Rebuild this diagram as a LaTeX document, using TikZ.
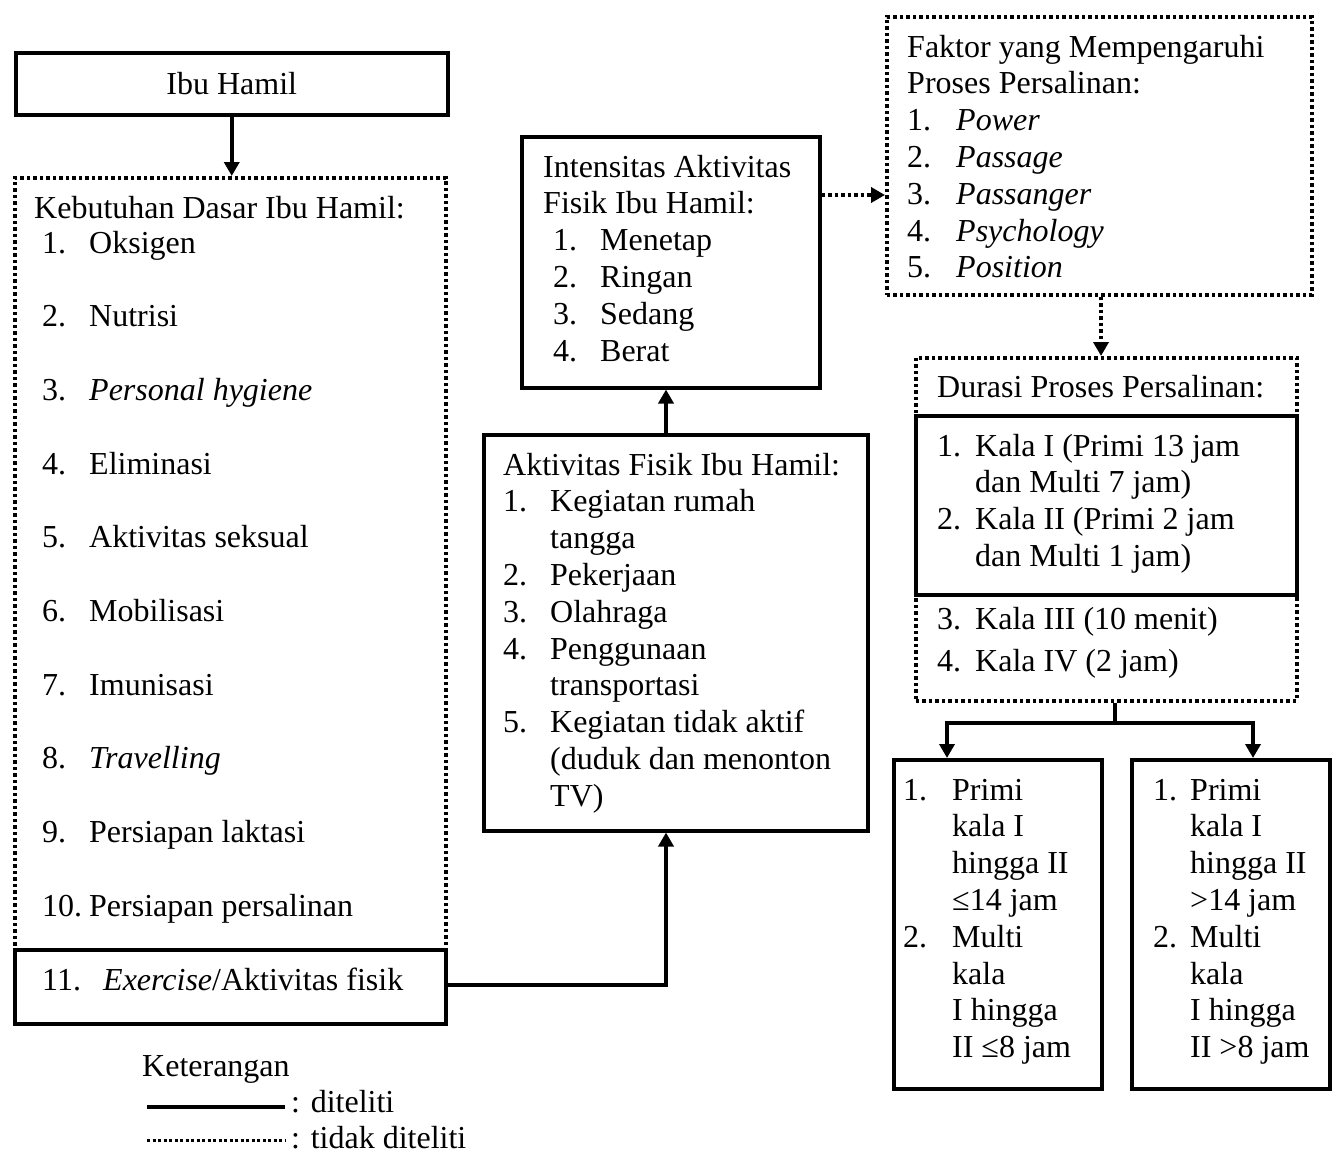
\documentclass[tikz,border=0pt]{standalone}
\usepackage{fontspec}
\setmainfont{Liberation Serif}
\usetikzlibrary{arrows.meta}
\newcommand\fs{\fontsize{32}{36.8}\selectfont}
\newcommand\nm[2]{\makebox[#1][l]{#2}}
\begin{document}
\begin{tikzpicture}[x=1pt,y=-1pt,
  solidbox/.style={draw, line width=3.5pt, rectangle, inner sep=0pt, anchor=north west},
  dotbox/.style={solidbox, dash pattern=on 3.5pt off 3pt},
  conn/.style={line width=3.5pt, -{Triangle[width=15pt,length=14pt]}},
  dotconn/.style={conn, dash pattern=on 3.5pt off 3pt},
  plain/.style={line width=3.5pt},
  txt/.style={anchor=base west, inner sep=0pt, font=\fs}]
\useasboundingbox[fill=white] (0,0) rectangle (1337,1154);

% ---------- boxes ----------
\node[solidbox, minimum width=432pt, minimum height=62pt, font=\fs] (ibu) at (14,51) {Ibu Hamil};
\node[dotbox, minimum width=431pt, minimum height=772pt] (keb) at (13,176) {};
\node[solidbox, minimum width=431pt, minimum height=74pt] (ex) at (13,948) {};
\node[solidbox, minimum width=298pt, minimum height=251pt] (int) at (520,135) {};
\node[solidbox, minimum width=384pt, minimum height=396pt] (akt) at (482,433) {};
\node[dotbox, minimum width=425pt, minimum height=278pt] (fak) at (885,15) {};
\node[dotbox, minimum width=381pt, minimum height=343pt] (dur) at (914,356) {};
\node[solidbox, minimum width=381pt, minimum height=179pt] (durin) at (914,414) {};
\node[solidbox, minimum width=208pt, minimum height=329pt] (pl) at (892,758) {};
\node[solidbox, minimum width=198pt, minimum height=329pt] (pr) at (1130,758) {};

% ---------- texts ----------
\node[txt] (kebt) at (34,218) {Kebutuhan Dasar Ibu Hamil:};
\foreach \t [count=\i] in {Oksigen, Nutrisi, \textit{Personal hygiene}, Eliminasi,
  Aktivitas seksual, Mobilisasi, Imunisasi, \textit{Travelling}, Persiapan laktasi,
  Persiapan persalinan}{
  \node[txt] (kn\i) at (42,{253+73.7*(\i-1)}) {\i.};
  \node[txt] (kt\i) at (89,{253+73.7*(\i-1)}) {\t};
}
\node[txt] (exn) at (42,990) {11.};
\node[txt] (ext) at (103,990) {\textit{Exercise}/Aktivitas fisik};

\node[txt] (intt) at (543,177) {\begin{tabular}[t]{@{}l@{}}
Intensitas Aktivitas\\
Fisik Ibu Hamil:\\
\hspace*{10pt}\nm{47pt}{1.}Menetap\\
\hspace*{10pt}\nm{47pt}{2.}Ringan\\
\hspace*{10pt}\nm{47pt}{3.}Sedang\\
\hspace*{10pt}\nm{47pt}{4.}Berat
\end{tabular}};

\node[txt] (aktt) at (503,475) {\begin{tabular}[t]{@{}l@{}}
Aktivitas Fisik Ibu Hamil:\\
\nm{47pt}{1.}Kegiatan rumah\\
\nm{47pt}{}tangga\\
\nm{47pt}{2.}Pekerjaan\\
\nm{47pt}{3.}Olahraga\\
\nm{47pt}{4.}Penggunaan\\
\nm{47pt}{}transportasi\\
\nm{47pt}{5.}Kegiatan tidak aktif\\
\nm{47pt}{}(duduk dan menonton\\
\nm{47pt}{}TV)
\end{tabular}};

\node[txt] (fakt) at (907,57) {\begin{tabular}[t]{@{}l@{}}
Faktor yang Mempengaruhi\\
Proses Persalinan:\\
\nm{49pt}{1.}\textit{Power}\\
\nm{49pt}{2.}\textit{Passage}\\
\nm{49pt}{3.}\textit{Passanger}\\
\nm{49pt}{4.}\textit{Psychology}\\
\nm{49pt}{5.}\textit{Position}
\end{tabular}};

\node[txt] (durt) at (937,397) {Durasi Proses Persalinan:};
\node[txt] (dura) at (937,456) {\begin{tabular}[t]{@{}l@{}}
\nm{38pt}{1.}Kala I (Primi 13 jam\\
\nm{38pt}{}dan Multi 7 jam)\\
\nm{38pt}{2.}Kala II (Primi 2 jam\\
\nm{38pt}{}dan Multi 1 jam)
\end{tabular}};
\node[txt] (durb) at (937,629) {\nm{38pt}{3.}Kala III (10 menit)};
\node[txt] (durc) at (937,671) {\nm{38pt}{4.}Kala IV (2 jam)};

\node[txt] (plt) at (903,800) {\begin{tabular}[t]{@{}l@{}}
\nm{49pt}{1.}Primi\\
\nm{49pt}{}kala I\\
\nm{49pt}{}hingga II\\
\nm{49pt}{}≤14 jam\\
\nm{49pt}{2.}Multi\\
\nm{49pt}{}kala\\
\nm{49pt}{}I hingga\\
\nm{49pt}{}II ≤8 jam
\end{tabular}};

\node[txt] (prt) at (1153,800) {\begin{tabular}[t]{@{}l@{}}
\nm{37pt}{1.}Primi\\
\nm{37pt}{}kala I\\
\nm{37pt}{}hingga II\\
\nm{37pt}{}>14 jam\\
\nm{37pt}{2.}Multi\\
\nm{37pt}{}kala\\
\nm{37pt}{}I hingga\\
\nm{37pt}{}II >8 jam
\end{tabular}};

% ---------- connectors ----------
\draw[conn] (ibu.south) -- (ibu.south |- keb.north);
\coordinate (c1) at (0,195);
\draw[dotconn] (int.east |- c1) -- (fak.west |- c1);
\coordinate (c2) at (1101,0);
\draw[dotconn] (fak.south -| c2) -- (dur.north -| c2);
\coordinate (c3) at (1115,723);
\coordinate (cl) at (947,723);
\coordinate (cr) at (1253,723);
\draw[plain] (dur.south -| c3) -- (c3);
\draw[conn] (c3) -- (cl) -- (pl.north -| cl);
\draw[conn] (c3) -- (cr) -- (pr.north -| cr);
\coordinate (c4) at (666,985);
\draw[conn] (ex.east |- c4) -- (c4) -- (akt.south -| c4);
\draw[conn] (akt.north -| c4) -- (int.south -| c4);

% ---------- legend ----------
\node[txt] (ket) at (142,1076) {Keterangan};
\coordinate (la) at (147,1107);
\coordinate (lb) at (285,1107);
\coordinate (lc) at (147,1140);
\coordinate (ld) at (285,1140);
\draw[line width=3.5pt] (la) -- (lb);
\draw[line width=3pt, dash pattern=on 3pt off 2.5pt] (lc) -- (ld);
\node[txt] (ket1) at (291,1112) {: diteliti};
\node[txt] (ket2) at (291,1148) {: tidak diteliti};
\end{tikzpicture}
\end{document}
